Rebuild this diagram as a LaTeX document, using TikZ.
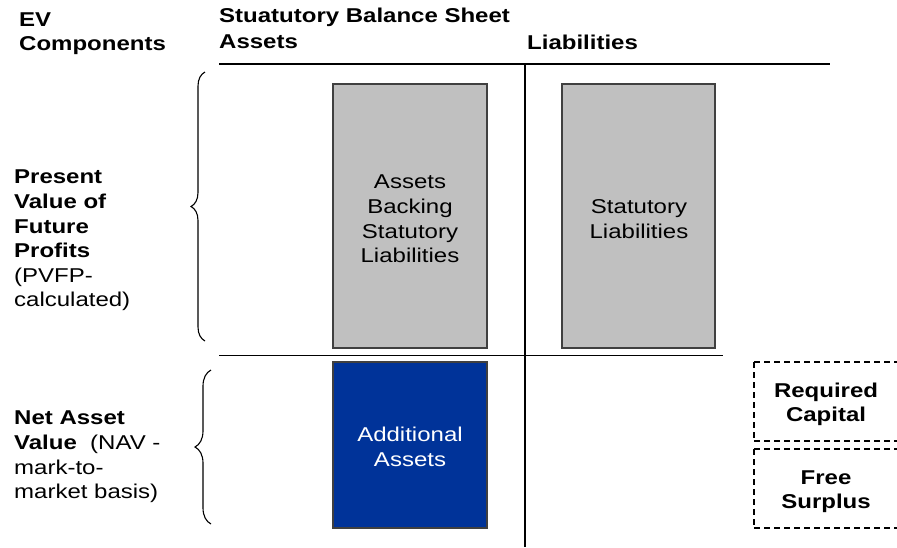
\documentclass[tikz,border=0pt]{standalone}
\usepackage{fontspec}
\setmainfont{Liberation Sans}[FakeStretch=1.2]
\usetikzlibrary{decorations.pathreplacing}
\definecolor{boxgray}{HTML}{C0C0C0}
\definecolor{navblue}{HTML}{003399}
\definecolor{edgegray}{HTML}{404040}
\begin{document}
\begin{tikzpicture}[x=1pt,y=-1pt,
  txt/.style={font=\fontsize{20}{24.6}\selectfont, inner sep=0pt, align=left, anchor=north west},
  hdr/.style={font=\fontsize{20}{24.6}\selectfont\bfseries, inner sep=0pt, align=left, anchor=west},
  inbox/.style={font=\fontsize{20}{24.6}\selectfont, align=center},
  graybox/.style={draw=edgegray, line width=1.5pt, fill=boxgray},
  bluebox/.style={draw=edgegray, line width=1.5pt, fill=navblue},
  capbox/.style={draw=black, line width=1.2pt, dash pattern=on 6pt off 4pt},
  rule/.style={line width=2pt},
  brc/.style={decorate, decoration={brace, amplitude=14pt}, line width=1.1pt}]
\useasboundingbox (0,0) rectangle (897,547);

% headings
\node[hdr] (ev) at (19,33.5) {EV\\Components};
\node[hdr] (sbs) at (219,17) {Stuatutory Balance Sheet};
\node[hdr] (ass) at (219,42) {Assets};
\node[hdr] (lia) at (527,42) {Liabilities};

% balance sheet rules
\coordinate (tl) at (219,64);
\coordinate (tr) at (830,64);
\coordinate (vt) at (525,64);
\coordinate (vb) at (525,547);
\coordinate (ml) at (219,355.5);
\coordinate (mr) at (723,355.5);
\draw[rule] (tl) -- (tr);
\draw[rule] (vt) -- (vb);
\draw[line width=1.5pt] (ml) -- (mr);

% asset and liability blocks
\draw[graybox] (333,84) rectangle (487,348);
\node[inbox] (abl) at (410,219) {Assets\\Backing\\Statutory\\Liabilities};
\draw[graybox] (562,84) rectangle (715,348);
\node[inbox] (sl) at (639,219) {Statutory\\Liabilities};
\draw[bluebox] (333,362) rectangle (487,528);
\node[inbox, text=white] (add) at (410,447) {Additional\\Assets};

% capital split
\draw[capbox] (754,362) -- (899,362) (754,441) -- (899,441) (754,362) -- (754,441);
\draw[capbox] (754,449) -- (899,449) (754,528) -- (899,528) (754,449) -- (754,528);
\node[inbox, font=\fontsize{20}{24.6}\selectfont\bfseries] (rc) at (826,404.5) {Required\\Capital};
\node[inbox, font=\fontsize{20}{24.6}\selectfont\bfseries] (fs) at (826,491.5) {Free\\Surplus};

% EV components
\coordinate (b1s) at (205,341);
\coordinate (b1e) at (205,72);
\draw[brc] (b1s) -- (b1e);
\coordinate (b2s) at (211,524);
\coordinate (b2e) at (211,370);
\draw[brc, decoration={amplitude=16pt}] (b2s) -- (b2e);

\node[txt] (pvfp) at (14,170) {\bfseries Present\\\bfseries Value of\\\bfseries Future\\\bfseries Profits\\(PVFP-\\calculated)};
\node[txt] (nav) at (14,411) {\bfseries Net Asset\\\textbf{Value}\ \ (NAV -\\mark-to-\\market basis)};
\end{tikzpicture}
\end{document}
